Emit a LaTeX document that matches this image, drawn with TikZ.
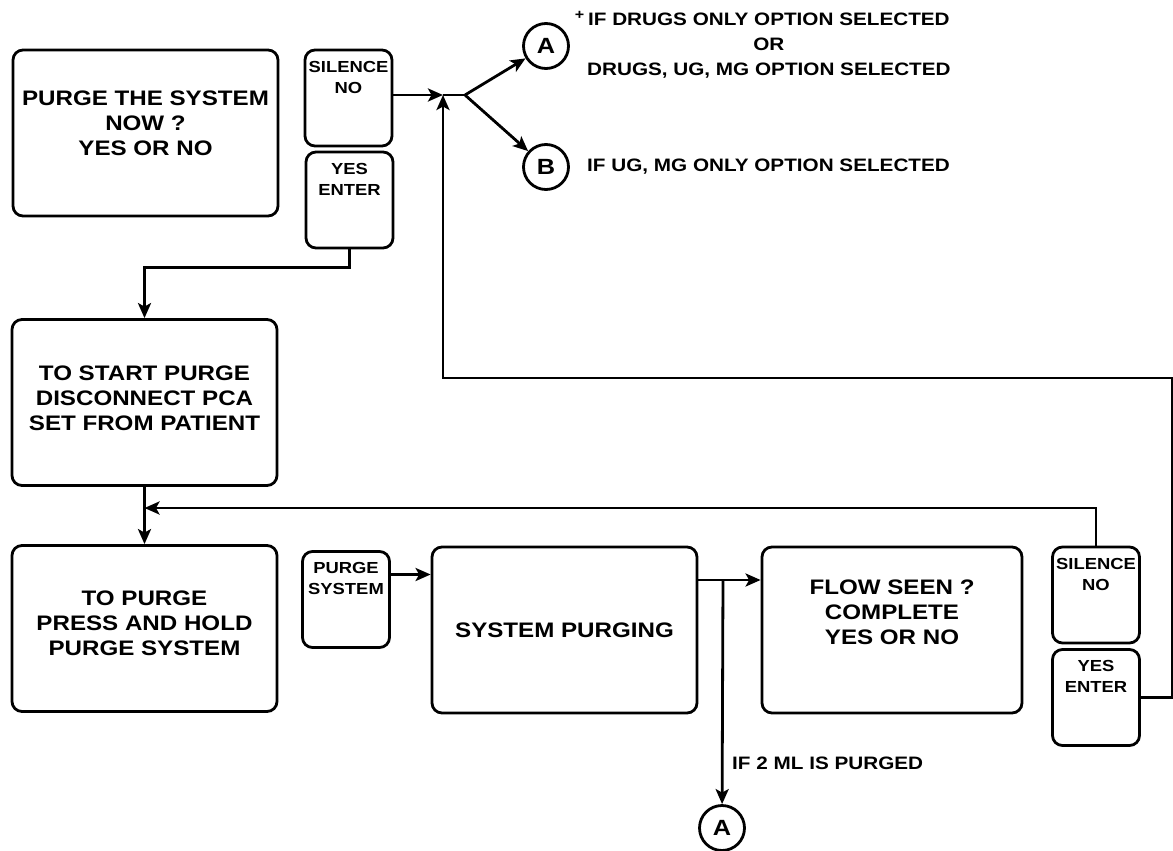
\documentclass[tikz,border=0pt]{standalone}
\usepackage{fontspec}
\setmainfont{Liberation Sans}[FakeStretch=1.15]
\usetikzlibrary{arrows.meta}
\usetikzlibrary{positioning}

\begin{document}
\begin{tikzpicture}[
  x=1pt, y=-1pt,
  panel/.style={draw, rounded corners=10pt, line width=2.8pt, minimum width=265pt, minimum height=166pt, align=center, font={\fontsize{21}{25}\selectfont\bfseries}},
  keybox/.style={draw, rounded corners=10pt, line width=2.8pt, minimum width=87pt, minimum height=96pt, align=center, text depth=42pt, font={\fontsize{16}{21}\selectfont\bfseries}},
  tag/.style={circle, draw, line width=2.8pt, minimum size=45pt, inner sep=0pt, font={\fontsize{22}{22}\selectfont\bfseries}},
  remark/.style={align=center, inner sep=0pt, font={\fontsize{18}{25}\selectfont\bfseries}},
  link/.style={line width=2.8pt, -{Stealth[length=15pt,width=13pt,inset=3.5pt]}},
  wire/.style={line width=2.8pt}
]
\useasboundingbox[fill=white] (0,0) rectangle (1173,851);

\node[panel, text depth=20pt] (ask) at (145.5,133) {PURGE THE SYSTEM\\NOW ?\\YES OR NO};
\node[keybox] (silence1) at (348.5,98) {SILENCE\\NO};
\node[keybox] (yes1) at (349.5,200) {YES\\ENTER};
\node[panel, text depth=8pt] (start) at (144.5,402.5) {TO START PURGE\\DISCONNECT PCA\\SET FROM PATIENT};
\node[panel, text depth=10pt] (press) at (144.5,628.5) {TO PURGE\\PRESS AND HOLD\\PURGE SYSTEM};
\node[keybox] (purge) at (346,599.5) {PURGE\\SYSTEM};
\node[panel] (purging) at (564.5,630) {SYSTEM PURGING};
\node[panel, minimum width=260pt, text depth=36pt] (flow) at (892,630) {FLOW SEEN ?\\COMPLETE\\YES OR NO};
\node[keybox] (silence2) at (1096,595) {SILENCE\\NO};
\node[keybox] (yes2) at (1096,697.5) {YES\\ENTER};

\node[tag] (a1) at (546,46) {A};
\node[tag] (b1) at (546,167) {B};
\node[tag] (a2) at (722,828) {A};
\node[remark, anchor=north west] (note1) at (587,11) {\llap{\raisebox{6pt}{\fontsize{14}{14}\selectfont +}\hspace{4pt}}IF DRUGS ONLY OPTION SELECTED\\OR\\DRUGS, UG, MG OPTION SELECTED};
\node[remark, anchor=west] (note2) at (587,167) {IF UG, MG ONLY OPTION SELECTED};
\node[remark, anchor=west] (note3) at (732,763) {IF 2 ML IS PURGED};

\coordinate (merge) at (443,95);
\coordinate (fork) at (465,95);
\coordinate (join) at (144.5,508);
\coordinate (split) at (723,580);
\coordinate (rim) at (1172,378);

\draw[link] (silence1.east |- merge) -- (merge);
\draw[wire] (merge) -- (fork);
\draw[link] (fork) -- (a1);
\draw[link] (fork) -- (b1);
\draw[link] (yes1.south) -- ++(0,18) -| (start.north);
\draw[link] (start.south) -- (press.north);
\draw[link] (silence2.north) |- (join);
\draw[link] ([yshift=25pt]purge.east) -- ([yshift=25pt]purge.east -| purging.west);
\draw[link] ([yshift=50pt]purging.east) -- ([yshift=50pt]purging.east -| flow.west);
\draw[link] (split) -- (a2);
\draw[link] (yes2.east) -| (rim) -| (merge);
\end{tikzpicture}
\end{document}
